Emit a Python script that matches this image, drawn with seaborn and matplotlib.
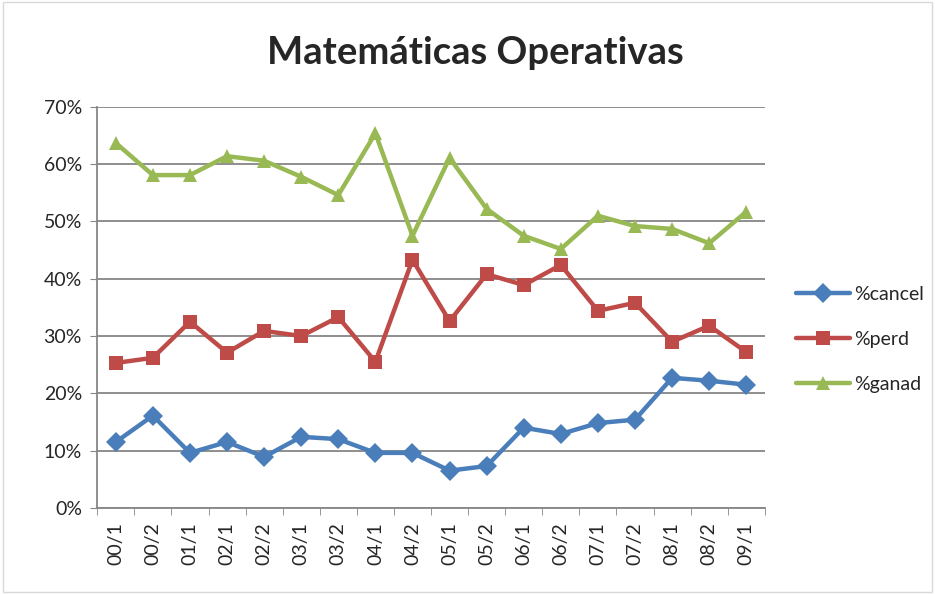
import numpy as np
import pandas as pd
import matplotlib.pyplot as plt
import seaborn as sns
from matplotlib.ticker import PercentFormatter, FixedLocator

periods = ["00/1", "00/2", "01/1", "02/1", "02/2", "03/1", "03/2", "04/1", "04/2",
           "05/1", "05/2", "06/1", "06/2", "07/1", "07/2", "08/1", "08/2", "09/1"]
cancel = [11.5, 16.1, 9.6, 11.5, 8.9, 12.4, 12.0, 9.6, 9.6,
          6.5, 7.3, 14.0, 12.9, 14.8, 15.4, 22.7, 22.2, 21.5]
perd = [25.3, 26.2, 32.5, 27.1, 30.9, 30.0, 33.3, 25.5, 43.3,
        32.6, 40.8, 38.9, 42.4, 34.4, 35.8, 29.0, 31.8, 27.2]
ganad = [63.7, 58.1, 58.1, 61.4, 60.6, 57.8, 54.6, 65.4, 47.5,
         61.1, 52.2, 47.5, 45.2, 51.0, 49.2, 48.7, 46.2, 51.7]

series_names = ["%cancel", "%perd", "%ganad"]
colors = ["#4A7EBB", "#BE4B48", "#98B954"]
markers = ["D", "s", "^"]

df = pd.DataFrame({"periodo": periods, "%cancel": cancel, "%perd": perd, "%ganad": ganad})
df["pos"] = np.arange(len(periods))
long_df = df.melt(id_vars=["periodo", "pos"], value_vars=series_names,
                  var_name="serie", value_name="valor")

sns.set_style("white")
plt.rcParams["font.family"] = ["Lato", "DejaVu Sans"]

fig = plt.figure(figsize=(9.35, 5.94), dpi=100)
ax = fig.add_axes([0.104, 0.145, 0.714, 0.675])

sns.lineplot(data=long_df, x="pos", y="valor", hue="serie", style="serie",
             hue_order=series_names, style_order=series_names,
             palette=colors, markers=markers, dashes=False,
             linewidth=3.2, markersize=10, markeredgewidth=0, ax=ax)

ax.set_xlim(-0.5, len(periods) - 0.5)
ax.set_ylim(0, 70)
ax.set_yticks(np.arange(0, 71, 10))
ax.yaxis.set_major_formatter(PercentFormatter(decimals=0))
ax.set_xticks(df["pos"])
ax.set_xticklabels(periods, rotation=90, fontsize=14)
ax.xaxis.set_minor_locator(FixedLocator(np.arange(-0.5, len(periods), 1)))
ax.tick_params(axis="y", labelsize=14, length=5, color="#868686", direction="out", left=True, pad=6)
ax.tick_params(axis="x", which="major", length=0, pad=10)
ax.tick_params(axis="x", which="minor", length=5, color="#868686", direction="out", bottom=True)
ax.grid(axis="y", color="#868686", linewidth=1.3)
ax.set_axisbelow(True)
for side in ["top", "right"]:
    ax.spines[side].set_visible(False)
for side in ["left", "bottom"]:
    ax.spines[side].set_color("#868686")
    ax.spines[side].set_linewidth(1.3)
ax.set_xlabel("")
ax.set_ylabel("")

ax.legend(loc="center left", bbox_to_anchor=(1.02, 0.42), frameon=False,
          fontsize=14, handlelength=2.8, labelspacing=1.45, handletextpad=0.2)

fig.text(0.508, 0.91, "Matemáticas Operativas", ha="center", va="center",
         fontsize=27.5, fontweight="bold")

fig.patches.append(plt.Rectangle((0.003, 0.003), 0.994, 0.994, transform=fig.transFigure,
                                 fill=False, edgecolor="#D9D9D9", linewidth=1))

plt.savefig("out.png", dpi=100)
plt.close()
